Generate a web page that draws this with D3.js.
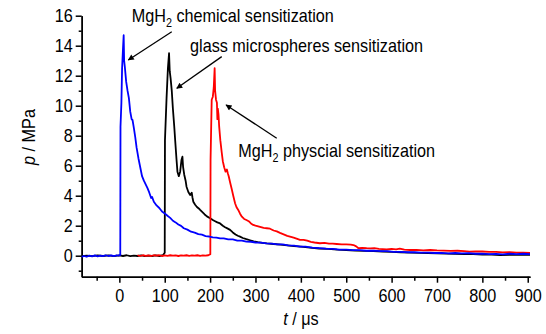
<!DOCTYPE html>
<meta charset="utf-8">
<style>
    body { margin: 0; background: #fff; }
    text { font-family: "Liberation Sans", Arial, sans-serif; font-size: 18px; fill: #000; }
    .axis path, .axis line { stroke: #000; stroke-width: 1.5px; }
    .series { fill: none; stroke-width: 1.8px; stroke-linejoin: round; }
</style>
<svg width="546" height="334"></svg>
<script src="https://d3js.org/d3.v7.min.js"></script>
<script>

    // time (us) / pressure (MPa) pairs
    var chemicalData = [
        [-83,-0.08],[-78,-0.02],[-72,-0.07],[-66,0.0],[-60,-0.05],[-54,0.02],[-48,-0.04],[-42,0.01],
        [-36,-0.03],[-30,0.03],[-24,-0.02],[-18,0.02],[-12,-0.03],[-6,0.03],[-2,0.0],[2,0.05],
        [2.5,8.6],[4.5,10.2],[6,12.5],[8,13.8],[9.5,14.7],[10.5,13.0],[12,12.6],[15,11.6],[18,11.0],
        [21,10.5],[24,9.6],[27,9.1],[29,9.05],[32,8.5],[35,7.9],[38,7.2],[42,6.5],[46,5.9],[50,5.3],
        [54,5.0],[58,4.75],[62,4.5],[66,4.2],[70,3.85],[72,3.92],[76,3.6],[82,3.35],[88,3.18],
        [94,2.95],[100,2.82],[106,2.66],[112,2.52],[118,2.33],[124,2.22],[130,2.08],[136,1.99],
        [142,1.83],[150,1.74],[158,1.6],[166,1.54],[174,1.44],[182,1.4],[190,1.31],[198,1.28],
        [206,1.22],[214,1.21],[222,1.15],[230,1.15],[240,1.09],[250,1.09],[260,1.01],[270,1.01],
        [280,0.94],[290,0.93],[300,0.88],[312,0.87],[324,0.82],[336,0.81],[348,0.76],[360,0.75],
        [372,0.69],[385,0.67],[398,0.61],[410,0.61],[425,0.54],[440,0.51],[455,0.47],[470,0.45],
        [485,0.41],[500,0.41],[515,0.37],[530,0.37],[545,0.33],[560,0.34],[575,0.3],[590,0.3],
        [605,0.26],[620,0.26],[635,0.23],[650,0.23],[665,0.2],[680,0.21],[695,0.18],[710,0.19],
        [725,0.16],[740,0.18],[755,0.15],[770,0.17],[785,0.13],[800,0.14],[815,0.11],[830,0.12],
        [845,0.09],[860,0.13],[875,0.1],[890,0.13],[905,0.11]
    ];

    var glassData = [
        [-83,-0.03],[-72,0.01],[-60,-0.03],[-48,0.02],[-36,-0.02],[-24,0.02],[-12,-0.03],[0,0.02],
        [8,-0.02],[16,0.03],[24,-0.03],[32,0.01],[40,-0.02],[48,0.02],[56,-0.03],[64,0.01],
        [72,-0.02],[80,0.02],[88,-0.02],[96,0.03],[100,0.2],
        [100.5,7.7],[104,10.5],[107,12.5],[109.5,13.5],[111,12.3],[113,11.8],[115.5,11.0],[118,9.8],
        [121,8.6],[123,7.7],[126,6.4],[128,5.6],[131,5.3],[134,5.6],[137,6.4],[139,6.6],[140.5,5.9],
        [143,5.4],[146,5.0],[148,4.6],[152,4.25],[156,4.05],[159.5,4.2],[161,3.9],[163,3.6],
        [167,3.4],[171,3.25],[175,3.15],[178,3.05],[183,2.9],[188,2.75],[193,2.62],[200,2.5],
        [206,2.38],[211,2.3],[216,2.22],[222,2.15],[228,2.0],[233,1.9],[238,1.82],[244,1.72],
        [250,1.55],[256,1.42],[261,1.33],[266,1.27],[272,1.18],[280,1.1],[288,1.03],[296,0.96],
        [305,0.9],[315,0.86],[325,0.82],[340,0.78],[355,0.74],[370,0.69],[385,0.64],[400,0.6],
        [420,0.54],[440,0.48],[460,0.45],[480,0.4],[500,0.37],[520,0.34],[540,0.32],[560,0.3],
        [580,0.28],[600,0.25],[620,0.23],[640,0.21],[660,0.19],[680,0.17],[700,0.15],[720,0.14],
        [740,0.12],[760,0.11],[780,0.1],[800,0.08],[820,0.07],[840,0.04],[860,0.06],[880,0.05],
        [905,0.06]
    ];

    var physicalData = [
        [40,0.03],[46,-0.02],[52,0.03],[58,-0.01],[64,0.02],[70,-0.02],[76,0.03],[82,0.0],[88,0.03],
        [94,-0.02],[100,0.02],[106,-0.01],[112,0.03],[118,0.0],[124,0.02],[130,-0.02],[136,0.02],
        [142,0.0],[148,0.03],[154,-0.01],[160,0.02],[166,0.0],[172,0.03],[178,-0.01],[184,0.02],
        [190,0.0],[196,0.03],[200.5,0.1],
        [201,6.4],[203.5,10.4],[206,10.6],[208,11.2],[210,12.5],[211,11.0],[213,10.4],[215,10.2],
        [216,9.1],[217,9.8],[218.5,9.4],[220,8.6],[222.5,7.7],[225.5,6.9],[228,6.3],[231,5.9],
        [234,5.6],[237,5.75],[239,5.5],[241,5.3],[244,4.9],[248,4.4],[251,4.0],[255,3.5],[258,3.25],
        [262,3.05],[266,2.8],[270,2.6],[275,2.45],[280,2.38],[285,2.3],[290,2.15],[295,2.05],
        [300,2.0],[306,1.95],[312,1.9],[318,1.85],[325,1.83],[332,1.8],[340,1.68],[347,1.62],
        [354,1.52],[362,1.42],[370,1.32],[376,1.27],[384,1.2],[392,1.12],[398,1.05],[406,1.06],
        [414,1.0],[422,0.92],[430,0.88],[442,0.83],[452,0.86],[462,0.8],[470,0.8],[479,0.78],
        [490,0.76],[500,0.75],[510,0.74],[516,0.71],[522,0.62],[527,0.5],[535,0.52],[545,0.5],
        [553,0.49],[562,0.5],[572,0.46],[580,0.44],[589,0.42],[600,0.45],[610,0.42],[618,0.47],
        [628,0.4],[640,0.38],[655,0.39],[670,0.36],[685,0.38],[700,0.35],[715,0.34],[730,0.32],
        [745,0.33],[760,0.3],[772,0.27],[785,0.29],[800,0.28],[815,0.25],[830,0.26],[845,0.22],
        [860,0.24],[875,0.21],[890,0.2],[905,0.18]
    ];

    var xMajor = [0, 100, 200, 300, 400, 500, 600, 700, 800, 900];
    var xMinor = [-50, 50, 150, 250, 350, 450, 550, 650, 750, 850];
    var yMajor = [0, 2, 4, 6, 8, 10, 12, 14, 16];
    var yMinor = [-1, 1, 3, 5, 7, 9, 11, 13, 15];

    // annotations: label anchor and arrow tail -> head, in data units
    var notes = [
        {name: "MgH", sub: "2", rest: " chemical sensitization", at: [27.3, 15.6], from: [115.5, 14.93], to: [19.8, 13.05]},
        {name: "glass microspheres sensitization", sub: "", rest: "", at: [155.8, 13.6], from: [225.6, 13.27], to: [126.5, 11.16]},
        {name: "MgH", sub: "2", rest: " physcial sensitization", at: [262.2, 6.6], from: [346.8, 7.83], to: [235.1, 10.05]}
    ];

    var svg = d3.select("svg");
    var sx = 0.9; // glyphs in the picture are a bit condensed

    var x = d3.scaleLinear().domain([-83, 905]).range([81.7, 530]);
    var y = d3.scaleLinear().domain([-1.4, 16]).range([276.7, 15.7]);

    // minor ticks first, then the labelled axes on top
    svg.append("g")
        .attr("class", "axis")
        .attr("transform", "translate(0," + y(-1.4) + ")")
        .call(d3.axisBottom(x).tickValues(xMinor).tickSize(4).tickSizeOuter(0).tickFormat(""));

    svg.append("g")
        .attr("class", "axis")
        .attr("transform", "translate(" + x(-83) + ",0)")
        .call(d3.axisLeft(y).tickValues(yMinor).tickSize(3).tickSizeOuter(0).tickFormat(""));

    var gx = svg.append("g")
        .attr("class", "axis")
        .attr("transform", "translate(0," + y(-1.4) + ")")
        .call(d3.axisBottom(x).tickValues(xMajor).tickSize(6).tickSizeOuter(0).tickPadding(7));

    var gy = svg.append("g")
        .attr("class", "axis")
        .attr("transform", "translate(" + x(-83) + ",0)")
        .call(d3.axisLeft(y).tickValues(yMajor).tickSize(6).tickSizeOuter(0).tickPadding(4));

    svg.selectAll(".axis text")
        .attr("transform", "scale(" + sx + ",1)");
    svg.selectAll(".axis").attr("font-size", null).attr("font-family", null);

    var line = d3.line()
        .x(function (d) { return x(d[0]); })
        .y(function (d) { return y(d[1]); });

    svg.append("path").datum(glassData).attr("class", "series").attr("stroke", "#000").attr("d", line);
    svg.append("path").datum(physicalData).attr("class", "series").attr("stroke", "#ff0000").attr("d", line);
    svg.append("path").datum(chemicalData).attr("class", "series").attr("stroke", "#0000ff").attr("d", line);

    // axis titles
    var yt = svg.append("text")
        .attr("transform", "translate(35,137) rotate(-90) scale(" + sx + ",1)")
        .attr("text-anchor", "middle");
    yt.append("tspan").attr("font-style", "italic").text("p");
    yt.append("tspan").text(" / MPa");

    var xt = svg.append("text")
        .attr("transform", "translate(301,325) scale(" + sx + ",1)")
        .attr("text-anchor", "middle");
    xt.append("tspan").attr("font-style", "italic").text("t");
    xt.append("tspan").text(" / \u03bcs");

    // arrows and notes
    svg.append("defs").append("marker")
        .attr("id", "head")
        .attr("viewBox", "0 0 10 10")
        .attr("refX", 9).attr("refY", 5)
        .attr("markerWidth", 8).attr("markerHeight", 6)
        .attr("markerUnits", "userSpaceOnUse")
        .attr("orient", "auto")
        .append("path")
        .attr("d", "M0,0L10,5L0,10Z")
        .attr("fill", "#000");

    notes.forEach(function (n) {
        svg.append("line")
            .attr("x1", x(n.from[0])).attr("y1", y(n.from[1]))
            .attr("x2", x(n.to[0])).attr("y2", y(n.to[1]))
            .attr("stroke", "#000").attr("stroke-width", 1.3)
            .attr("marker-end", "url(#head)");

        var t = svg.append("text")
            .attr("transform", "translate(" + x(n.at[0]) + "," + y(n.at[1]) + ") scale(" + sx + ",1)");
        t.append("tspan").text(n.name);
        if (n.sub) {
            t.append("tspan").attr("font-size", "12px").attr("dy", 5).text(n.sub);
            t.append("tspan").attr("dy", -5).text(n.rest);
        }
    });

</script>
